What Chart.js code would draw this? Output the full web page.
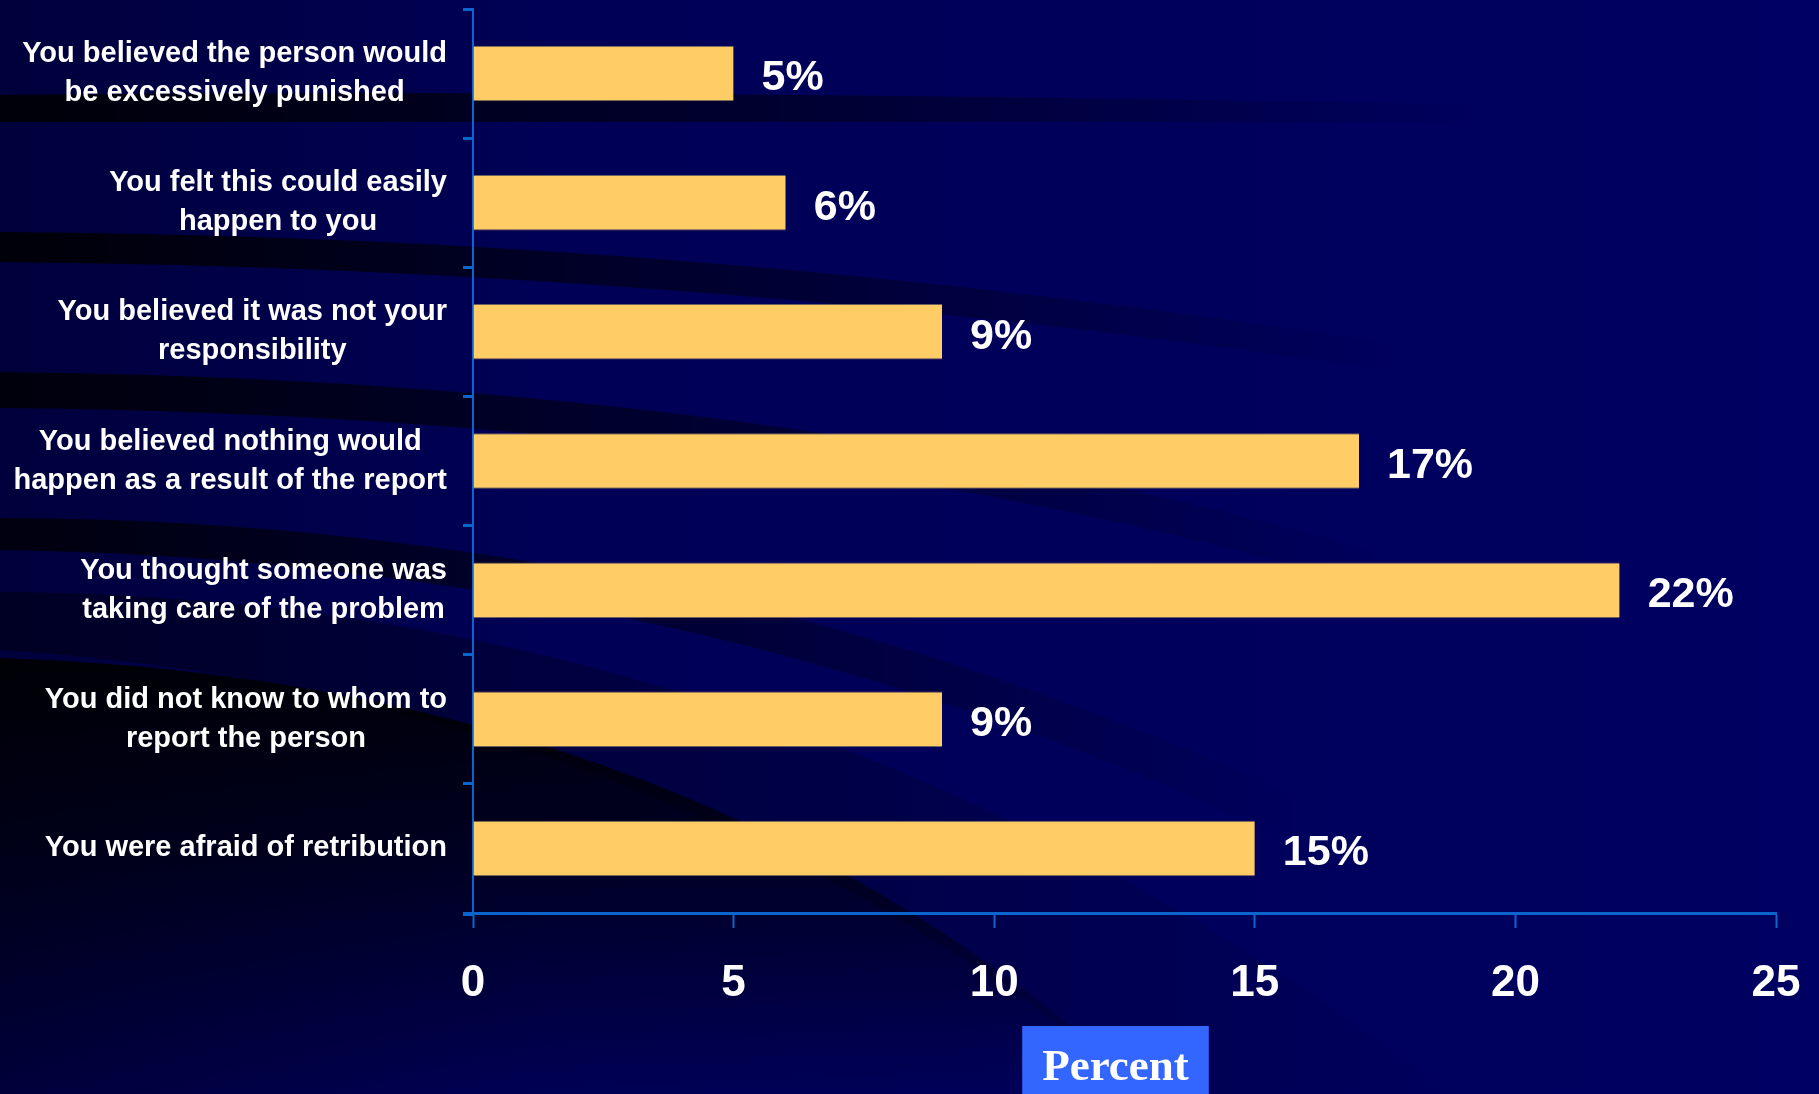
<!DOCTYPE html>
<html>
<head>
<meta charset="utf-8">
<script src="https://cdn.jsdelivr.net/npm/chart.js@4.4.1/dist/chart.umd.min.js"></script>
<style>
  html, body { margin: 0; padding: 0; }
  body { background: #000060; }
  #wrap { position: relative; width: 1819px; height: 1094px; }
</style>
</head>
<body>
<div id="wrap"><canvas id="myChart"></canvas></div>
<script>
// data
var categories = [
    ['You believed the person would', 'be excessively punished'],
    ['You felt this could easily', 'happen to you'],
    ['You believed it was not your', 'responsibility'],
    ['You believed nothing would', 'happen as a result of the report'],
    ['You thought someone was', 'taking care of the problem'],
    ['You did not know to whom to', 'report the person'],
    ['You were afraid of retribution']
];
var percents = [5, 6, 9, 17, 22, 9, 15];
var valueLabels = ['5%', '6%', '9%', '17%', '22%', '9%', '15%'];
var xTicks = [0, 5, 10, 15, 20, 25];
var axisTitle = 'Percent';

var axisBlue = '#0a66cc';

// dark swooshes of the slide background
var backdrop = {
    id: 'backdrop',
    beforeDraw: function (chart) {
        var ctx = chart.ctx;
        var w = chart.width, h = chart.height;
        ctx.save();
        var g = ctx.createLinearGradient(0, 0, w, 0);
        g.addColorStop(0, '#00003c');
        g.addColorStop(0.3, '#000056');
        g.addColorStop(1, '#000062');
        ctx.fillStyle = g;
        ctx.fillRect(0, 0, w, h);

        function band(pts, fadeEnd, alpha) {
            var bg = ctx.createLinearGradient(0, 0, fadeEnd, 0);
            bg.addColorStop(0, 'rgba(0,0,0,' + alpha + ')');
            bg.addColorStop(0.5, 'rgba(0,0,0,' + alpha * 0.55 + ')');
            bg.addColorStop(1, 'rgba(0,0,0,0)');
            ctx.fillStyle = bg;
            ctx.beginPath();
            ctx.moveTo(pts[0], pts[1]);
            ctx.quadraticCurveTo(pts[2], pts[3], pts[4], pts[5]);
            ctx.lineTo(pts[6], pts[7]);
            ctx.quadraticCurveTo(pts[8], pts[9], pts[10], pts[11]);
            ctx.closePath();
            ctx.fill();
        }
        band([0, 95, 600, 88, 1500, 105, 1500, 122, 600, 122, 0, 122], 1500, 0.85);
        band([0, 232, 700, 236, 1400, 345, 1400, 372, 700, 268, 0, 262], 1400, 0.85);
        band([0, 372, 800, 380, 1400, 560, 1400, 595, 800, 415, 0, 408], 1400, 0.8);
        band([0, 518, 700, 520, 1300, 800, 1300, 845, 700, 560, 0, 550], 1300, 0.75);
        // medium band behind the lower bars
        band([0, 592, 800, 595, 1450, 1094, 1150, 1094, 650, 690, 0, 650], 1500, 0.4);

        // big dark crescent in the lower left, fading out towards the bottom
        var vg = ctx.createLinearGradient(0, 650, 0, h);
        vg.addColorStop(0, 'rgba(0,0,0,0.92)');
        vg.addColorStop(0.45, 'rgba(0,0,0,0.6)');
        vg.addColorStop(1, 'rgba(0,0,0,0.02)');
        ctx.fillStyle = vg;
        ctx.beginPath();
        ctx.moveTo(0, 658);
        ctx.quadraticCurveTo(700, 680, 1150, h);
        ctx.lineTo(0, h);
        ctx.closePath();
        ctx.fill();
        ctx.restore();
    }
};

// category labels: block right-aligned at the axis, lines centred in the block
var yLabels = {
    id: 'yLabels',
    afterDraw: function (chart) {
        var ctx = chart.ctx;
        var yScale = chart.scales.y;
        var right = chart.chartArea.left - 26;
        var lineGap = 39;
        ctx.save();
        ctx.font = 'bold 29px "Liberation Sans", Arial, sans-serif';
        ctx.fillStyle = '#ffffff';
        ctx.textAlign = 'center';
        ctx.textBaseline = 'middle';
        categories.forEach(function (lines, i) {
            var yc = yScale.getPixelForTick(i);
            var maxW = 0;
            lines.forEach(function (t) { maxW = Math.max(maxW, ctx.measureText(t).width); });
            var cx = right - maxW / 2;
            var y0 = yc - (lines.length - 1) * lineGap / 2;
            lines.forEach(function (t, k) { ctx.fillText(t, cx, y0 + k * lineGap); });
        });
        // the x axis line pokes a little past the y axis
        ctx.strokeStyle = axisBlue;
        ctx.lineWidth = 3;
        ctx.beginPath();
        ctx.moveTo(chart.chartArea.left - 10, chart.chartArea.bottom + 1.5);
        ctx.lineTo(chart.chartArea.left, chart.chartArea.bottom + 1.5);
        ctx.stroke();
        ctx.restore();
    }
};

// percentage labels at the end of each bar
var barLabels = {
    id: 'barLabels',
    afterDatasetsDraw: function (chart) {
        var ctx = chart.ctx;
        var meta = chart.getDatasetMeta(0);
        ctx.save();
        ctx.font = 'bold 43px "Liberation Sans", Arial, sans-serif';
        ctx.fillStyle = '#ffffff';
        ctx.textAlign = 'left';
        ctx.textBaseline = 'middle';
        meta.data.forEach(function (bar, i) {
            ctx.fillText(valueLabels[i], bar.x + 28, bar.y + 5);
        });
        ctx.restore();
    }
};

// blue "Percent" box under the x axis
var percentBox = {
    id: 'percentBox',
    afterDraw: function (chart) {
        var ctx = chart.ctx;
        var area = chart.chartArea;
        ctx.save();
        ctx.font = 'bold 45px "Liberation Serif", "Times New Roman", serif';
        var tw = ctx.measureText(axisTitle).width;
        var cx = (area.left + area.right) / 2 - 9;
        var bw = tw + 40;
        var top = chart.height - 68;
        ctx.fillStyle = '#3366ff';
        ctx.fillRect(cx - bw / 2, top, bw, chart.height - top);
        ctx.fillStyle = '#ffffff';
        ctx.textAlign = 'center';
        ctx.textBaseline = 'alphabetic';
        ctx.fillText(axisTitle, cx, chart.height - 14);
        ctx.restore();
    }
};

var ctx = document.getElementById('myChart').getContext('2d');
var myChart = new Chart(ctx, {
    type: 'bar',
    data: {
        labels: categories,
        datasets: [{
            label: 'Percent',
            data: percents,
            backgroundColor: '#ffcc66',
            borderColor: 'rgba(120,105,95,0.9)',
            borderWidth: { top: 1, bottom: 1, left: 0, right: 0 },
            borderSkipped: false,
            categoryPercentage: 1.0,
            barPercentage: 0.43
        }]
    },
    options: {
        indexAxis: 'y',
        responsive: true,
        maintainAspectRatio: false,
        animation: false,
        layout: {
            padding: { top: 9, right: 43, left: 0, bottom: 0 }
        },
        plugins: {
            legend: { display: false },
            tooltip: { enabled: false }
        },
        scales: {
            x: {
                min: 0,
                max: 25,
                afterBuildTicks: function (scale) {
                    scale.ticks = xTicks.map(function (v) { return { value: v }; });
                },
                afterFit: function (scale) {
                    scale.height = 181;
                    // keep the label overhang from eating into the plot width
                    scale.paddingLeft = 0;
                    scale.paddingRight = 0;
                },
                grid: {
                    drawOnChartArea: false,
                    drawTicks: true,
                    tickLength: 15,
                    tickWidth: 2,
                    tickColor: axisBlue
                },
                border: { display: true, color: axisBlue, width: 3 },
                ticks: {
                    color: '#ffffff',
                    padding: 29,
                    font: { family: '"Liberation Sans", Arial, sans-serif', size: 44, weight: 'bold' }
                }
            },
            y: {
                afterFit: function (scale) { scale.width = 473; },
                grid: {
                    drawOnChartArea: false,
                    drawTicks: true,
                    tickLength: 10,
                    tickWidth: 3,
                    tickColor: axisBlue,
                    offset: true
                },
                border: { display: true, color: axisBlue, width: 2 },
                ticks: { display: false }
            }
        }
    },
    plugins: [backdrop, yLabels, barLabels, percentBox]
});
</script>
</body>
</html>
